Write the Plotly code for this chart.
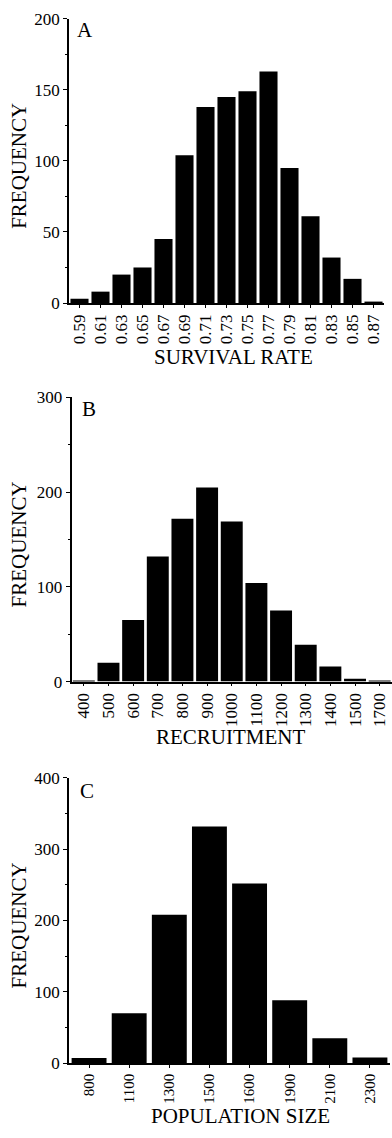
import plotly.graph_objects as go

# ---- data ----
survival_labels = ["0.59", "0.61", "0.63", "0.65", "0.67", "0.69", "0.71", "0.73",
                   "0.75", "0.77", "0.79", "0.81", "0.83", "0.85", "0.87"]
survival_freq = [3, 8, 20, 25, 45, 104, 138, 145, 149, 163, 95, 61, 32, 17, 1]

recruit_labels = ["400", "500", "600", "700", "800", "900", "1000", "1100", "1200",
                  "1300", "1400", "1500", "1700"]
recruit_freq = [1, 20, 65, 132, 172, 205, 169, 104, 75, 39, 16, 3, 1]

pop_labels = ["800", "1100", "1300", "1500", "1600", "1900", "2100", "2300"]
pop_freq = [7, 70, 208, 332, 252, 88, 35, 8]

panel_letters = ["A", "B", "C"]
x_titles = ["SURVIVAL RATE", "RECRUITMENT", "POPULATION SIZE"]
y_title = "FREQUENCY"
y_ranges = [200, 300, 400]
y_major = [50, 100, 100]
y_minor = [25, 50, 50]

# ---- layout geometry (pixels) ----
W, H = 392, 1138
FONT = "Liberation Serif"
panels = [
    dict(x0=69, x1=384, y0=10, y1=299, width=0.86, xfont=17),
    dict(x0=71.5, x1=392, y0=395, y1=684, width=0.89, xfont=17),
    dict(x0=69, x1=390, y0=782, y1=1072, width=0.87, xfont=15),
]
xt_y = [354, 740, 1126]
xt_x = [233, 231, 240]
letter_pos = [(85, 21), (89, 407), (87, 795)]

def px_x(v):
    return v / W

def px_y(v):
    return 1 - v / H

fig = go.Figure()
datasets = [(survival_labels, survival_freq), (recruit_labels, recruit_freq), (pop_labels, pop_freq)]

annotations = []
for i, ((labels, freq), p) in enumerate(zip(datasets, panels)):
    n = "" if i == 0 else str(i + 1)
    fig.add_trace(go.Bar(
        x=labels, y=freq, width=p["width"],
        marker=dict(color="black", line=dict(width=0)),
        xaxis="x" + n, yaxis="y" + n, showlegend=False,
    ))
    fig.update_layout(**{
        "xaxis" + n: dict(
            domain=[px_x(p["x0"]), px_x(p["x1"])],
            anchor="y" + n, type="category",
            categoryorder="array", categoryarray=labels,
            range=[-0.5, len(labels) - 0.5],
            tickangle=-90, ticks="outside", ticklen=3, tickwidth=1,
            tickcolor="black", showline=True, linecolor="black", linewidth=1.5,
            showgrid=False, zeroline=False,
            tickfont=dict(family=FONT, size=p["xfont"], color="black"),
        ),
        "yaxis" + n: dict(
            domain=[px_y(p["y1"]), px_y(p["y0"])],
            anchor="x" + n, range=[0, y_ranges[i]],
            tickmode="linear", tick0=0, dtick=y_major[i],
            ticks="outside", ticklen=4, tickwidth=1, tickcolor="black",
            minor=dict(dtick=y_minor[i], ticks="outside", ticklen=2, tickcolor="black"),
            showline=True, linecolor="black", linewidth=1.5,
            showgrid=False, zeroline=False,
            tickfont=dict(family=FONT, size=17, color="black"),
        ),
    })
    annotations.append(dict(
        text=x_titles[i], xref="paper", yref="paper",
        x=px_x(xt_x[i]), y=px_y(xt_y[i]), xanchor="center", yanchor="middle",
        showarrow=False, font=dict(family=FONT, size=21, color="black"),
    ))
    annotations.append(dict(
        text=y_title, xref="paper", yref="paper", textangle=-90,
        x=px_x(19), y=px_y((p["y0"] + p["y1"]) / 2 + 5), xanchor="center", yanchor="middle",
        showarrow=False, font=dict(family=FONT, size=21, color="black"),
    ))
    lx, ly = letter_pos[i]
    annotations.append(dict(
        text=panel_letters[i], xref="paper", yref="paper",
        x=px_x(lx), y=px_y(ly), xanchor="center", yanchor="middle",
        showarrow=False, font=dict(family=FONT, size=21, color="black"),
    ))

fig.update_layout(
    width=W, height=H, autosize=False,
    margin=dict(l=0, r=0, t=0, b=0, pad=0),
    paper_bgcolor="white", plot_bgcolor="white",
    annotations=annotations,
    font=dict(family=FONT, color="black"),
)

fig.write_html("out.html")
